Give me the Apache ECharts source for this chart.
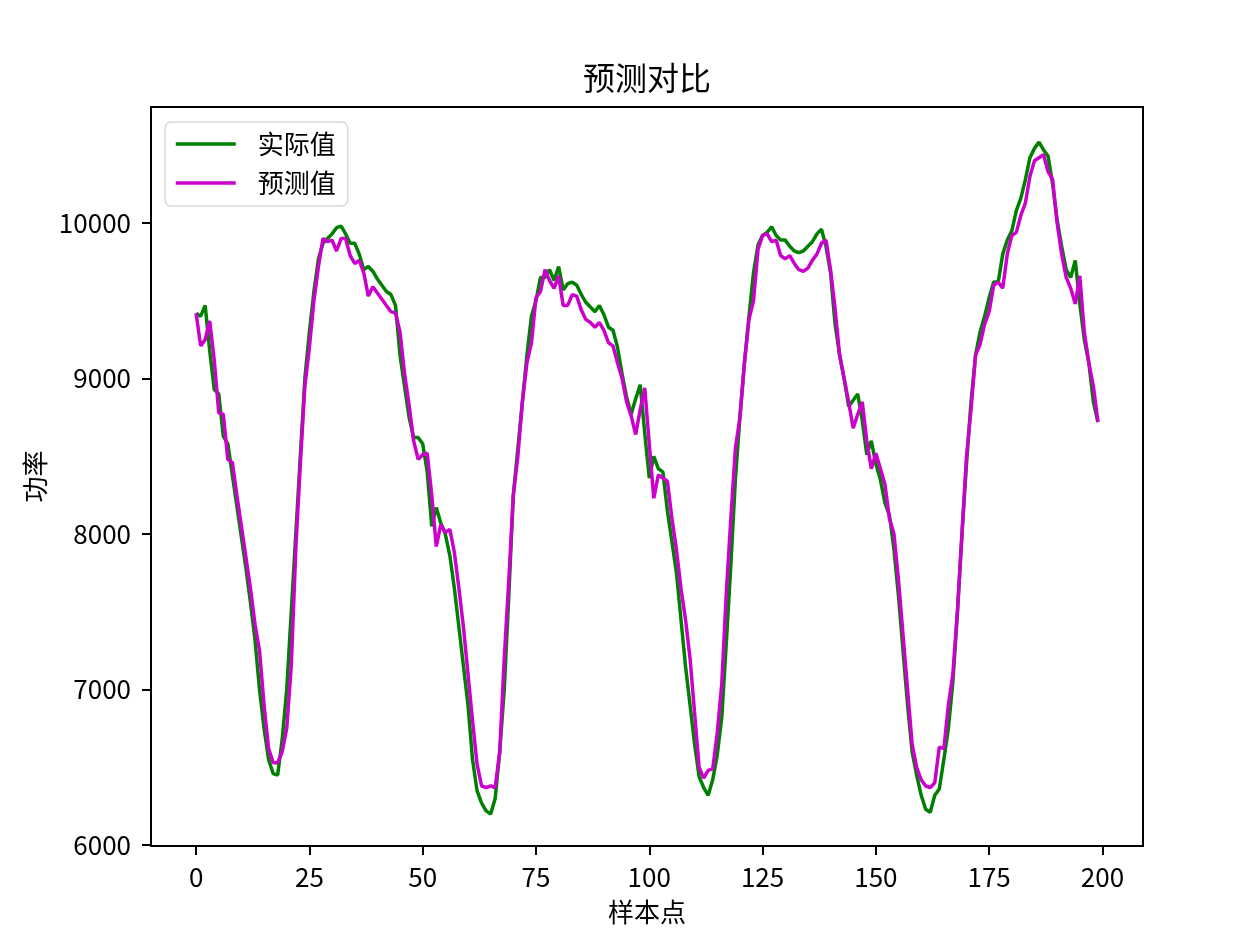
<!DOCTYPE html>
<html>
<head>
<meta charset="utf-8">
<title>预测对比</title>
<script src="https://cdn.jsdelivr.net/npm/echarts@6/dist/echarts.min.js"></script>
<style>
  html, body { margin: 0; padding: 0; background: #fff; }
  #chart { width: 1259px; height: 941px; }
</style>
</head>
<body>
<div id="chart"></div>
<script>
// 实际值（样本点 0-199）
const actual = [
  9420, 9400, 9470, 9180, 8930, 8900, 8630, 8580, 8380, 8180,
  7980, 7780, 7560, 7320, 7000, 6750, 6550, 6460, 6450, 6680,
  7000, 7500, 8000, 8500, 9000, 9300, 9560, 9770, 9870, 9900,
  9930, 9970, 9980, 9930, 9870, 9870, 9800, 9700, 9720, 9690,
  9640, 9600, 9560, 9540, 9470, 9150, 8950, 8750, 8620, 8620,
  8580, 8400, 8050, 8170, 8070, 8000, 7860, 7650, 7400, 7150,
  6900, 6550, 6350, 6270, 6220, 6200, 6300, 6600, 7000, 7600,
  8250, 8550, 8850, 9150, 9400, 9500, 9650, 9650, 9700, 9630,
  9720, 9570, 9610, 9620, 9600, 9540, 9490, 9460, 9430, 9470,
  9410, 9330, 9310, 9200, 9030, 8880, 8770, 8870, 8960, 8650,
  8360, 8500, 8420, 8400, 8150, 7950, 7750, 7450, 7150, 6900,
  6650, 6440, 6370, 6320, 6420, 6580, 6820, 7300, 7800, 8350,
  8750, 9100, 9400, 9680, 9860, 9920, 9940, 9975, 9920, 9890,
  9890, 9850, 9820, 9810, 9820, 9850, 9880, 9930, 9960, 9850,
  9680, 9350, 9150, 9000, 8820, 8860, 8900, 8730, 8510, 8600,
  8450, 8350, 8200, 8120, 7900, 7600, 7250, 6900, 6600, 6450,
  6320, 6230, 6210, 6320, 6360, 6550, 6750, 7050, 7500, 8000,
  8450, 8850, 9150, 9300, 9400, 9520, 9620, 9620, 9800, 9890,
  9950, 10080, 10160, 10280, 10420, 10480, 10520, 10470, 10430, 10250,
  10020, 9850, 9700, 9650, 9760, 9480, 9250, 9100, 8850, 8720
]

// 预测值（样本点 0-199）
const predicted = [
  9420, 9210, 9250, 9370, 9120, 8780, 8770, 8480, 8460, 8250,
  8050, 7850, 7650, 7420, 7250, 6900, 6620, 6530, 6530, 6600,
  6750, 7150, 7900, 8450, 8950, 9200, 9500, 9720, 9900, 9880,
  9890, 9820, 9900, 9900, 9790, 9740, 9760, 9680, 9530, 9590,
  9550, 9510, 9470, 9430, 9420, 9300, 9030, 8830, 8600, 8480,
  8510, 8520, 8250, 7920, 8060, 8010, 8030, 7880, 7650, 7400,
  7100, 6800, 6520, 6380, 6370, 6380, 6370, 6600, 7200, 7700,
  8250, 8500, 8850, 9100, 9230, 9520, 9560, 9700, 9630, 9580,
  9660, 9470, 9470, 9540, 9530, 9440, 9380, 9360, 9330, 9360,
  9310, 9230, 9210, 9100, 9000, 8850, 8760, 8640, 8800, 8940,
  8580, 8230, 8380, 8360, 8340, 8100, 7900, 7650, 7450, 7200,
  6850, 6500, 6430, 6480, 6490, 6720, 7040, 7620, 8100, 8550,
  8750, 9100, 9380, 9500, 9830, 9920, 9930, 9880, 9890, 9790,
  9770, 9790, 9740, 9700, 9690, 9710, 9760, 9800, 9870, 9890,
  9700, 9450, 9150, 9000, 8850, 8680, 8770, 8850, 8600, 8420,
  8520, 8420, 8320, 8100, 8000, 7700, 7350, 7000, 6650, 6500,
  6420, 6380, 6370, 6400, 6630, 6620, 6900, 7100, 7500, 8000,
  8500, 8800, 9150, 9220, 9350, 9430, 9600, 9620, 9580, 9800,
  9920, 9940, 10050, 10130, 10300, 10400, 10420, 10440, 10330, 10280,
  10000, 9800, 9650, 9580, 9480, 9660, 9300, 9100, 8950, 8720
]

const xTicks = [0, 25, 50, 75, 100, 125, 150, 175, 200]
const yTicks = [6000, 7000, 8000, 9000, 10000]

const FONT = '"Noto Sans CJK SC", "Noto Sans", sans-serif'

function toPairs (values) {
  let out = []
  for (let i = 0; i < values.length; i++) {
    out.push([i, values[i]])
  }
  return out
}

let chart = echarts.init(document.getElementById('chart'), null, { renderer: 'canvas' })

let option = {
  backgroundColor: '#fff',
  animation: false,
  textStyle: { fontFamily: FONT, color: '#000' },
  title: {
    text: '预测对比',
    left: 647,
    textAlign: 'center',
    top: 62,
    padding: 0,
    textStyle: { fontFamily: FONT, fontSize: 32, fontWeight: 'normal', color: '#000' }
  },
  legend: {
    orient: 'vertical',
    left: 165,
    top: 122,
    padding: [9, 12, 10, 9],
    itemWidth: 60,
    itemHeight: 28,
    itemGap: 13,
    backgroundColor: '#fff',
    borderColor: '#d9d9d9',
    borderWidth: 1.5,
    borderRadius: 6,
    itemStyle: { opacity: 0 },
    lineStyle: { width: 3.5 },
    textStyle: {
      fontFamily: FONT,
      fontSize: 26,
      color: '#000',
      padding: [0, 0, 0, 17]
    },
    data: ['实际值', '预测值']
  },
  grid: {
    left: 151,
    top: 107,
    width: 992,
    height: 739,
    show: true,
    borderColor: '#000',
    borderWidth: 2,
    backgroundColor: '#fff'
  },
  xAxis: {
    type: 'value',
    min: -9.95,
    max: 208.95,
    name: '样本点',
    nameLocation: 'middle',
    nameGap: 53,
    nameTextStyle: { fontFamily: FONT, fontSize: 26, color: '#000' },
    axisLine: { show: true, onZero: false, lineStyle: { color: '#000', width: 2 } },
    axisTick: { show: true, length: 9, lineStyle: { color: '#000', width: 2 }, customValues: xTicks },
    axisLabel: { fontFamily: FONT, fontSize: 26, color: '#000', margin: 18, customValues: xTicks },
    splitLine: { show: false }
  },
  yAxis: {
    type: 'value',
    min: 5994,
    max: 10746,
    name: '功率',
    nameLocation: 'middle',
    nameRotate: 90,
    nameGap: 74,
    nameTextStyle: { fontFamily: FONT, fontSize: 26, color: '#000' },
    axisLine: { show: true, onZero: false, lineStyle: { color: '#000', width: 2 } },
    axisTick: { show: true, length: 9, lineStyle: { color: '#000', width: 2 }, customValues: yTicks },
    axisLabel: {
      fontFamily: FONT,
      fontSize: 26,
      color: '#000',
      margin: 20,
      customValues: yTicks,
      formatter: function (value) {
        return String(value)
      }
    },
    splitLine: { show: false }
  },
  series: [
    {
      name: '实际值',
      type: 'line',
      data: toPairs(actual),
      symbol: 'none',
      color: '#008000',
      lineStyle: { color: '#008000', width: 3.5 },
      z: 2
    },
    {
      name: '预测值',
      type: 'line',
      data: toPairs(predicted),
      symbol: 'none',
      color: '#cc00cc',
      lineStyle: { color: '#cc00cc', width: 3.5 },
      z: 3
    }
  ]
}

chart.setOption(option)
</script>
</body>
</html>
